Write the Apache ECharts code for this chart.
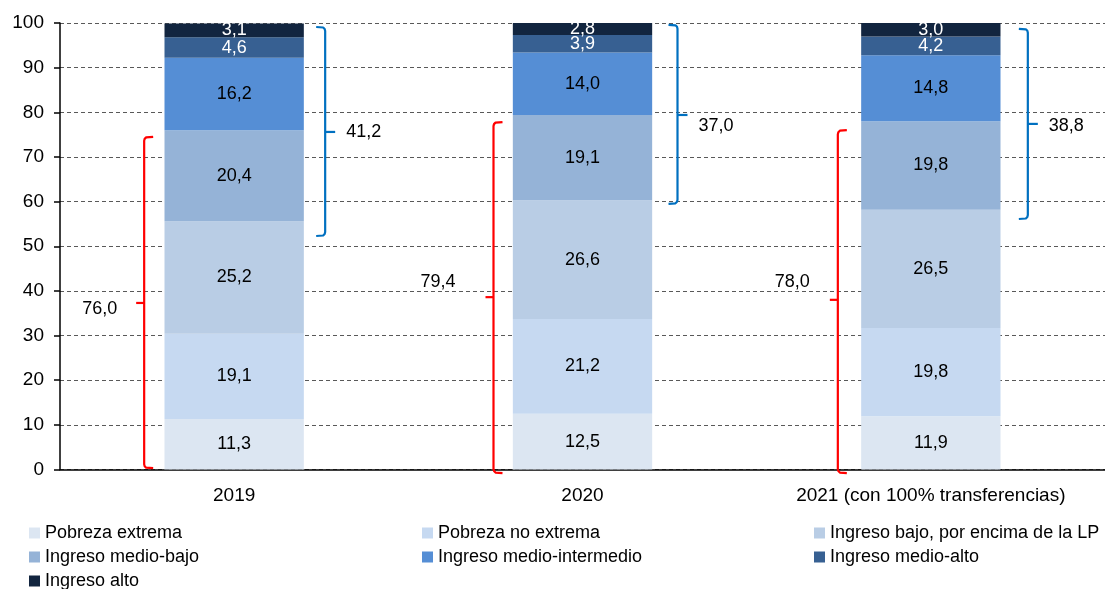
<!DOCTYPE html>
<html>
<head>
<meta charset="utf-8">
<script src="https://cdn.jsdelivr.net/npm/echarts@6/dist/echarts.min.js"></script>
<style>
  html, body { margin: 0; padding: 0; background: #fff; }
  #chart { width: 1105px; height: 589px; }
</style>
</head>
<body>
<div id="chart"></div>
<script>
// Distribución de la población por estrato de ingreso (%)
const categories = ['2019', '2020', '2021 (con 100% transferencias)'];

const pobrezaExtrema         = [11.3, 12.5, 11.9];
const pobrezaNoExtrema       = [19.1, 21.2, 19.8];
const ingresoBajo            = [25.2, 26.6, 26.5];
const ingresoMedioBajo       = [20.4, 19.1, 19.8];
const ingresoMedioIntermedio = [16.2, 14.0, 14.8];
const ingresoMedioAlto       = [4.6, 3.9, 4.2];
const ingresoAlto            = [3.1, 2.8, 3.0];

const seriesNames = [
  'Pobreza extrema',
  'Pobreza no extrema',
  'Ingreso bajo, por encima de la LP',
  'Ingreso medio-bajo',
  'Ingreso medio-intermedio',
  'Ingreso medio-alto',
  'Ingreso alto'
];
const seriesValues = [
  pobrezaExtrema, pobrezaNoExtrema, ingresoBajo, ingresoMedioBajo,
  ingresoMedioIntermedio, ingresoMedioAlto, ingresoAlto
];

// Brace annotations (extents on the value axis)
const redBraceTop    = [74.5, 77.8, 76.0];
const redBraceBottom = [0.3, -0.8, -0.8];
const redBraceTip    = [37.3, 38.6, 38.0];
const redLabelAt     = [35.9, 42.0, 42.0];

const blueBraceTop    = [99.1, 99.6, 98.7];
const blueBraceBottom = [52.3, 59.5, 56.1];
const blueBraceTip    = [75.6, 79.4, 77.4];
const blueLabelAt     = [75.6, 76.9, 76.9];

// Totals shown next to the braces
const sumOf = (arrs, i) => arrs.reduce((s, a) => s + a[i], 0);
const fmt = v => v.toFixed(1).replace('.', ',');
const redTotals  = categories.map((_, i) =>
  sumOf([pobrezaExtrema, pobrezaNoExtrema, ingresoBajo, ingresoMedioBajo], i));
const blueTotals = categories.map((_, i) =>
  sumOf([ingresoMedioBajo, ingresoMedioIntermedio, ingresoMedioAlto], i));

// Styling / layout
const FONT = '"Liberation Sans", Arial, Helvetica, sans-serif';
const colors = ['#DCE6F2', '#C6D9F1', '#B9CDE5', '#95B3D7', '#558ED5', '#376092', '#12253F'];
const labelColors = ['#000', '#000', '#000', '#000', '#000', '#fff', '#fff'];
const RED = '#FF0000', BLUE = '#0070C0';
const redLayout  = { dx: [-90, -89, -93], hook: 9, tip: 8, gap: [19, 30, 20] };
const blueLayout = { dx: [91, 95, 97], hook: -9, tip: 10, gap: [11, 11, 11] };
// legend grid: three columns, rows filled left to right
const legendCols = [29, 422, 814];
const legendRows = [523, 547, 571];

function braceSeries(top, bottom, tip, labelAt, totals, color, layout, side) {
  return {
    type: 'custom',
    name: side + 'Brace',
    coordinateSystem: 'cartesian2d',
    clip: false,
    silent: true,
    z: 5,
    data: categories.map((_, i) => [i, bottom[i], top[i]]),
    encode: { x: 0, y: [1, 2] },
    renderItem: function (params, api) {
      const i = params.dataIndex;
      const x0 = api.coord([i, 0])[0] + layout.dx[i];
      const yT = api.coord([i, top[i]])[1];
      const yB = api.coord([i, bottom[i]])[1];
      const yM = api.coord([i, tip[i]])[1];
      const yL = api.coord([i, labelAt[i]])[1];
      const h = layout.hook;
      const s = Math.sign(h);
      const tipX = x0 - s * layout.tip;
      return {
        type: 'group',
        children: [
          {
            type: 'polyline',
            shape: {
              points: [
                [x0 + h, yT], [x0 + s * 2, yT + 0.5], [x0 + s * 0.5, yT + 2], [x0, yT + 4],
                [x0, yB - 4], [x0 + s * 0.5, yB - 2], [x0 + s * 2, yB - 0.5], [x0 + h, yB]
              ]
            },
            style: { stroke: color, lineWidth: 2.2, fill: null, lineJoin: 'round' }
          },
          {
            type: 'line',
            shape: { x1: x0, y1: yM, x2: tipX, y2: yM },
            style: { stroke: color, lineWidth: 2.2 }
          },
          {
            type: 'text',
            x: s > 0 ? tipX - layout.gap[i] : tipX + layout.gap[i],
            y: yL,
            style: {
              text: fmt(totals[i]),
              fill: '#000',
              font: '18px ' + FONT,
              align: s > 0 ? 'right' : 'left',
              verticalAlign: 'middle'
            }
          }
        ]
      };
    }
  };
}

const barSeries = seriesNames.map((name, k) => ({
  name: name,
  type: 'bar',
  stack: 'total',
  barWidth: '40%',
  data: seriesValues[k],
  itemStyle: { color: colors[k] },
  label: {
    show: true,
    position: 'inside',
    color: labelColors[k],
    fontSize: 18,
    fontFamily: FONT,
    formatter: p => fmt(p.value)
  },
  emphasis: { disabled: true }
}));

// one legend entry per slot of the 3-column legend grid
const legends = seriesNames.map((name, k) => ({
  left: legendCols[k % 3],
  top: legendRows[Math.floor(k / 3)],
  padding: 0,
  orient: 'horizontal',
  itemWidth: 11,
  itemHeight: 11,
  icon: 'rect',
  selectedMode: false,
  data: [name],
  textStyle: { fontSize: 18, fontFamily: FONT, color: '#000', lineHeight: 20 }
}));

const option = {
  animation: false,
  backgroundColor: '#fff',
  color: colors,
  grid: { left: 60, top: 23, width: 1048, bottom: 119.5, containLabel: false },
  legend: legends,
  xAxis: {
    type: 'category',
    data: categories,
    axisLine: { show: true, lineStyle: { color: '#000', width: 1.5 } },
    axisTick: { show: false },
    axisLabel: { color: '#000', fontSize: 19, fontFamily: FONT, margin: 17, interval: 0, hideOverlap: false },
    splitLine: { show: false }
  },
  yAxis: {
    type: 'value',
    min: 0,
    max: 100,
    interval: 10,
    axisLine: { show: true, lineStyle: { color: '#000', width: 1.5 } },
    axisTick: { show: true, length: 6, lineStyle: { color: '#000', width: 1.5 } },
    axisLabel: { color: '#000', fontSize: 19, fontFamily: FONT, margin: 16 },
    splitLine: { show: true, lineStyle: { color: '#595959', width: 1, type: [4, 3] } }
  },
  series: barSeries.concat([
    braceSeries(redBraceTop, redBraceBottom, redBraceTip, redLabelAt, redTotals, RED, redLayout, 'red'),
    braceSeries(blueBraceTop, blueBraceBottom, blueBraceTip, blueLabelAt, blueTotals, BLUE, blueLayout, 'blue')
  ])
};

const chart = echarts.init(document.getElementById('chart'), null, { renderer: 'canvas' });
chart.setOption(option);
</script>
</body>
</html>
